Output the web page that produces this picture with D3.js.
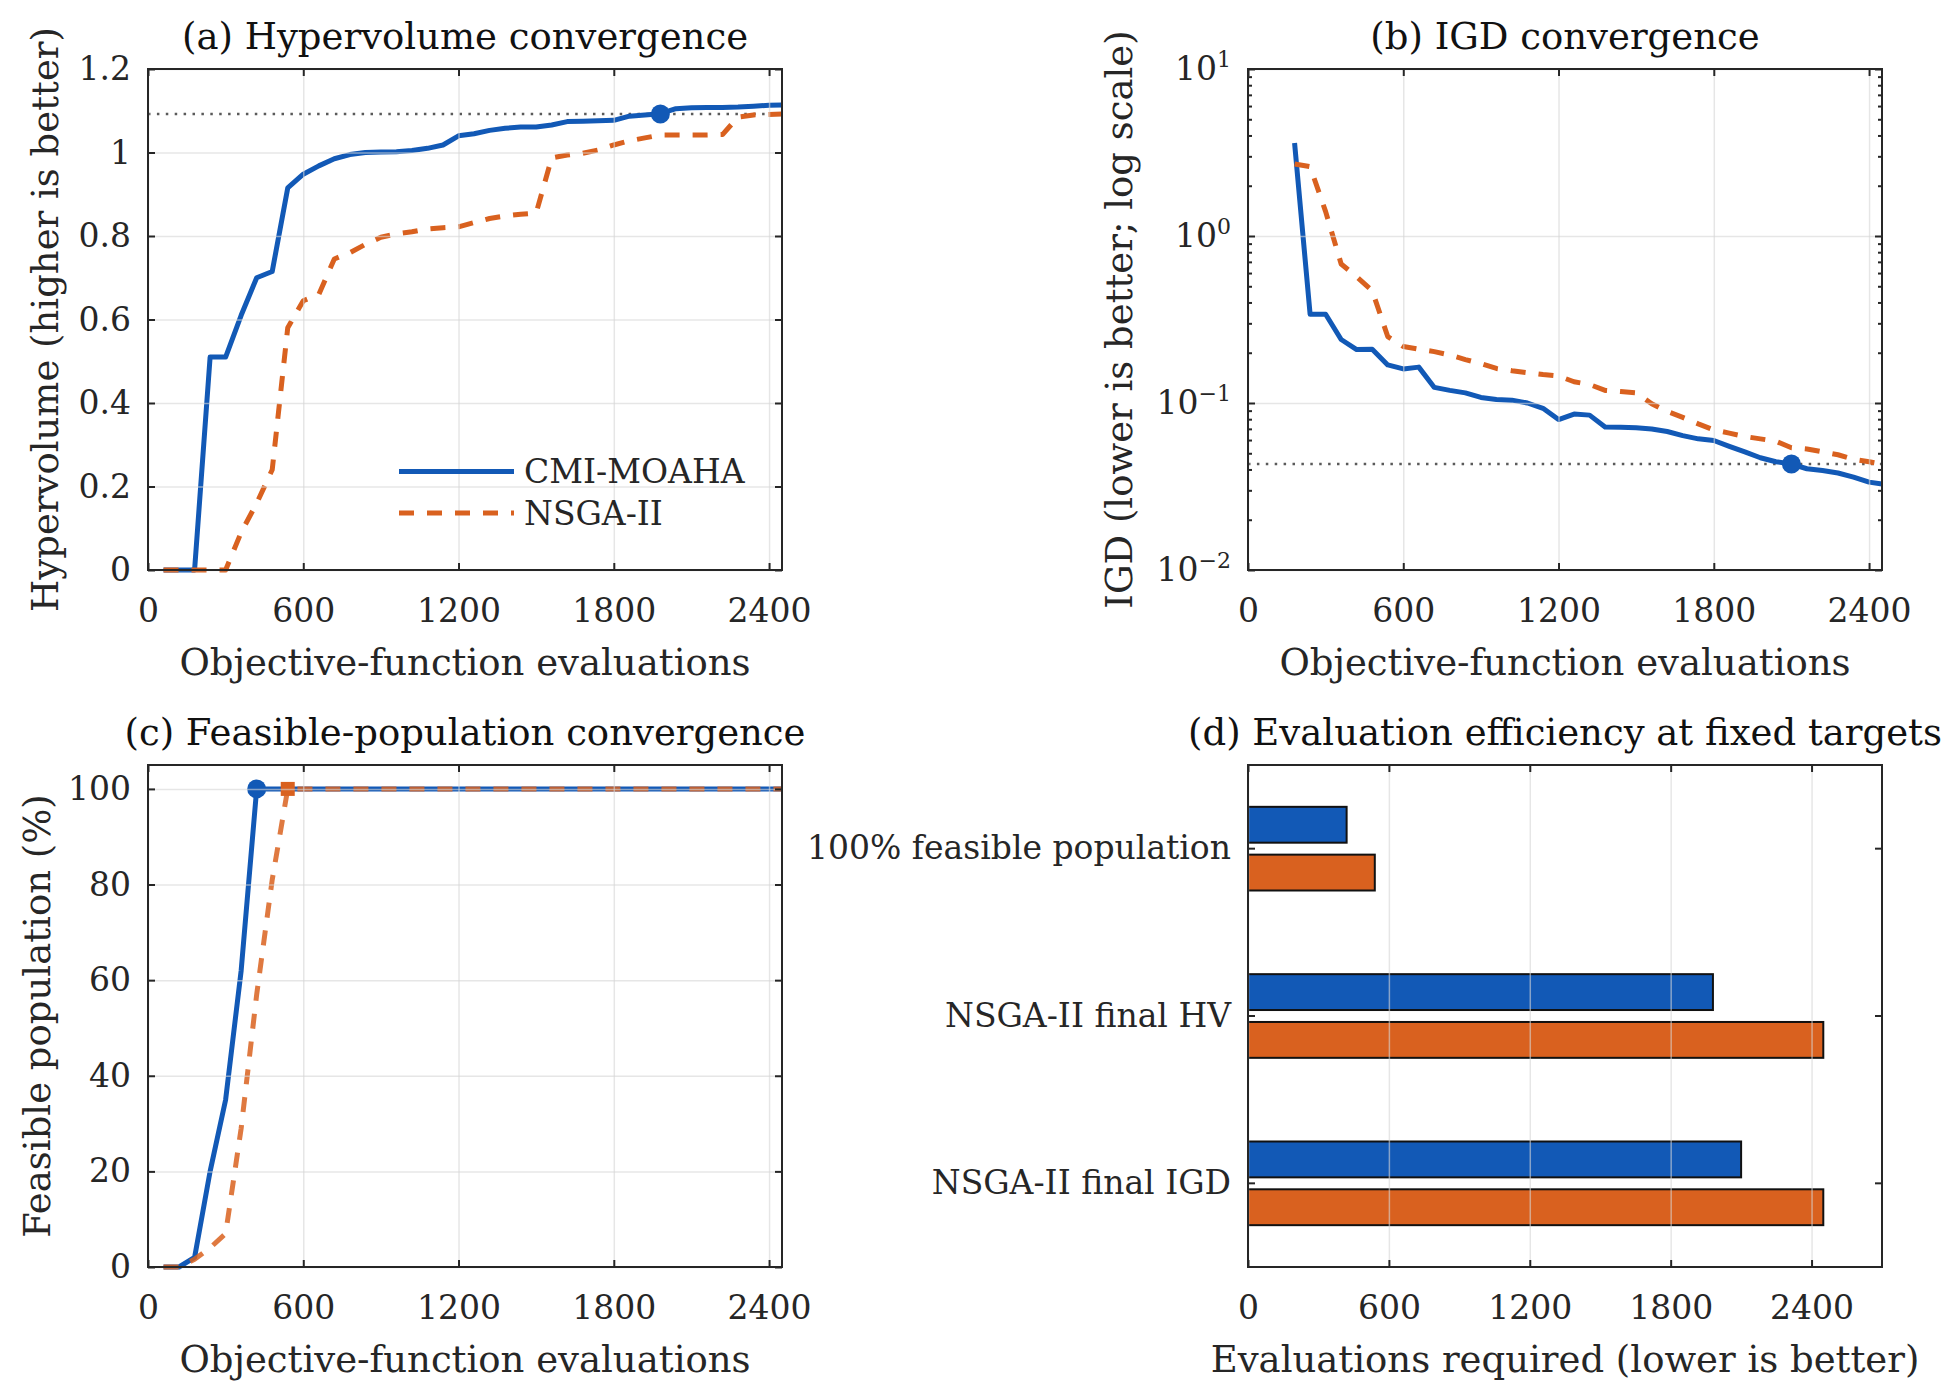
<!DOCTYPE html>
<html>
<head>
<meta charset="utf-8">
<script src="https://cdn.jsdelivr.net/npm/d3@7"></script>
<style>
  body { margin: 0; background: #fff; }
  .vis { width: 1956px; height: 1393px; }
</style>
</head>
<body>
<div class="vis"></div>
<script>
(function() {
  'use strict';

  // ---- data ----
  var evals = [60, 120, 180, 240, 300, 360, 420, 480, 540, 600, 660, 720, 780, 840, 900, 960,
    1020, 1080, 1140, 1200, 1260, 1320, 1380, 1440, 1500, 1560, 1620, 1680, 1740, 1800, 1860,
    1920, 1980, 2040, 2100, 2160, 2220, 2280, 2340, 2400, 2450];
  var hvCmi = [0, 0, 0, 0.51, 0.51, 0.61, 0.70, 0.715, 0.915, 0.948, 0.968, 0.985, 0.995, 1.0,
    1.001, 1.002, 1.005, 1.01, 1.018, 1.04, 1.045, 1.053, 1.058, 1.061, 1.061, 1.066, 1.074,
    1.075, 1.076, 1.077, 1.087, 1.09, 1.093, 1.105, 1.107, 1.108, 1.108, 1.109, 1.111, 1.113, 1.114];
  var hvNsga = [0, 0, 0, 0, 0, 0.09, 0.16, 0.24, 0.58, 0.645, 0.66, 0.745, 0.76, 0.78, 0.797,
    0.805, 0.81, 0.817, 0.82, 0.822, 0.832, 0.842, 0.848, 0.852, 0.855, 0.987, 0.994, 0.998,
    1.006, 1.018, 1.028, 1.035, 1.042, 1.042, 1.042, 1.042, 1.043, 1.085, 1.09, 1.091, 1.092];

  var igdEvals = [180, 240, 300, 360, 420, 480, 540, 600, 660, 720, 780, 840, 900, 960, 1020,
    1080, 1140, 1200, 1260, 1320, 1380, 1440, 1500, 1560, 1620, 1680, 1740, 1800, 1860, 1920,
    1980, 2040, 2100, 2160, 2220, 2280, 2340, 2400, 2450];
  var igdCmi = [3.6, 0.34, 0.34, 0.24, 0.209, 0.21, 0.169, 0.16, 0.164, 0.124, 0.119, 0.115,
    0.108, 0.105, 0.104, 0.1, 0.093, 0.0796, 0.0858, 0.0846, 0.0718, 0.0716, 0.071, 0.0698,
    0.0675, 0.0638, 0.061, 0.0596, 0.055, 0.051, 0.047, 0.0445, 0.0431, 0.0404, 0.0394,
    0.0381, 0.036, 0.0336, 0.0327];
  var igdNsga = [2.7, 2.6, 1.4, 0.68, 0.57, 0.47, 0.25, 0.218, 0.21, 0.203, 0.194, 0.182,
    0.172, 0.161, 0.156, 0.152, 0.148, 0.145, 0.134, 0.129, 0.119, 0.117, 0.115, 0.099,
    0.089, 0.082, 0.075, 0.069, 0.066, 0.063, 0.061, 0.059, 0.054, 0.053, 0.051, 0.049,
    0.046, 0.0445, 0.0431];

  var feasEvals = [60, 120, 180, 240, 300, 360, 420, 480, 540, 600, 2450];
  var feasCmi = [0, 0, 2, 20, 35, 62, 100, 100, 100, 100, 100];
  var feasNsga = [0, 0, 1.6, 4, 7, 29, 57, 81, 100, 100, 100];

  var hvTarget = 1.092, hvHit = 1980;
  var igdTarget = 0.0431, igdHit = 2100;
  var feasHitCmi = 420, feasHitNsga = 540;

  var barCats = ['100% feasible population', 'NSGA-II final HV', 'NSGA-II final IGD'];
  var barCmi = [420, 1980, 2100];
  var barNsga = [540, 2450, 2450];

  var seriesNames = ['CMI-MOAHA', 'NSGA-II'];
  var evalTicks = [0, 600, 1200, 1800, 2400];
  var hvTicks = [0, 0.2, 0.4, 0.6, 0.8, 1, 1.2];
  var igdTicks = [0.01, 0.1, 1, 10];
  var feasTicks = [0, 20, 40, 60, 80, 100];

  // ---- styling ----
  var BLUE = '#1259b6', ORANGE = '#d9611f', INK = '#262626';
  var FONT = '"DejaVu Serif", serif';
  var TICK_FS = 33, LABEL_FS = 37, LW = 5;

  var boxA = {x: 148, y: 69, w: 634, h: 501},
    boxB = {x: 1248, y: 69, w: 634, h: 501},
    boxC = {x: 148, y: 765, w: 634, h: 502},
    boxD = {x: 1248, y: 765, w: 634, h: 502};

  var svg = d3.select('.vis').append('svg')
      .attr('width', 1956)
      .attr('height', 1393)
      .style('background', '#fff');

  function styleAxis(sel) {
    sel.attr('font-family', null).attr('font-size', null);
    sel.select('.domain').remove();
    sel.selectAll('.tick line').attr('stroke', INK).attr('stroke-width', 2);
    sel.selectAll('.tick text')
      .attr('fill', INK)
      .attr('font-family', FONT)
      .attr('font-size', TICK_FS);
  }

  function styleGrid(sel) {
    sel.attr('font-family', null).attr('font-size', null);
    sel.select('.domain').remove();
    sel.selectAll('.tick text').remove();
    sel.selectAll('.tick line')
      .attr('stroke', '#d6d6d6')
      .attr('stroke-opacity', 0.6)
      .attr('stroke-width', 1.5);
  }

  function grid(g, box, xs, ys, xTicks, yTicks) {
    if (xTicks) {
      g.append('g')
        .attr('transform', 'translate(0,' + box.h + ')')
        .call(d3.axisBottom(xs).tickValues(xTicks).tickSize(-box.h).tickFormat(''))
        .call(styleGrid);
    }
    if (yTicks) {
      g.append('g')
        .call(d3.axisLeft(ys).tickValues(yTicks).tickSize(-box.w).tickFormat(''))
        .call(styleGrid);
    }
  }

  function frame(g, box, xs, ys, o) {
    g.append('g')
      .attr('transform', 'translate(0,' + box.h + ')')
      .call(d3.axisBottom(xs).tickValues(o.xTicks).tickFormat(d3.format('d'))
        .tickSizeInner(-7).tickSizeOuter(0).tickPadding(28.5))
      .call(styleAxis);
    g.append('g')
      .call(d3.axisTop(xs).tickValues(o.xTicks).tickSizeInner(-7).tickSizeOuter(0).tickFormat(''))
      .call(styleAxis);

    var left = d3.axisLeft(ys).tickSizeInner(-7).tickSizeOuter(0).tickPadding(17);
    var right = d3.axisRight(ys).tickSizeInner(-7).tickSizeOuter(0).tickFormat('');
    if (o.yTicks) {
      left.tickValues(o.yTicks);
      right.tickValues(o.yTicks);
    }
    if (o.yFmt) left.tickFormat(o.yFmt);
    o.leftAxis = g.append('g').call(left).call(styleAxis);
    g.append('g')
      .attr('transform', 'translate(' + box.w + ',0)')
      .call(right)
      .call(styleAxis);

    if (o.yMinor) {
      g.append('g')
        .call(d3.axisLeft(ys).tickValues(o.yMinor).tickSizeInner(-4).tickSizeOuter(0).tickFormat(''))
        .call(styleAxis);
      g.append('g')
        .attr('transform', 'translate(' + box.w + ',0)')
        .call(d3.axisRight(ys).tickValues(o.yMinor).tickSizeInner(-4).tickSizeOuter(0).tickFormat(''))
        .call(styleAxis);
    }

    g.append('rect')
      .attr('width', box.w)
      .attr('height', box.h)
      .attr('fill', 'none')
      .attr('stroke', INK)
      .attr('stroke-width', 2);

    // title
    g.append('text')
      .attr('x', box.w / 2)
      .attr('y', -20.5)
      .attr('text-anchor', 'middle')
      .attr('font-family', FONT)
      .attr('font-size', LABEL_FS)
      .attr('fill', '#111')
      .text(o.title);

    // x label
    g.append('text')
      .attr('x', box.w / 2)
      .attr('y', box.h + 105)
      .attr('text-anchor', 'middle')
      .attr('font-family', FONT)
      .attr('font-size', LABEL_FS)
      .attr('fill', INK)
      .text(o.xLabel);

    // y label
    if (o.yLabel) {
      g.append('text')
        .attr('transform', 'translate(' + (o.yLabelX - box.x) + ',' + (box.h / 2) + ') rotate(-90)')
        .attr('text-anchor', 'middle')
        .attr('font-family', FONT)
        .attr('font-size', LABEL_FS)
        .attr('fill', INK)
        .text(o.yLabel);
    }
  }

  function targetLine(g, box, ys, v) {
    g.append('line')
      .attr('x1', 0)
      .attr('x2', box.w)
      .attr('y1', ys(v))
      .attr('y2', ys(v))
      .attr('stroke', '#5a5a5a')
      .attr('stroke-width', 2.5)
      .attr('stroke-dasharray', '2.5 6.4');
  }

  function drawSeries(g, xs, ys, xv, yv, color, dashed) {
    var line = d3.line()
      .x(function(d) { return xs(d[0]); })
      .y(function(d) { return ys(d[1]); });
    return g.append('path')
      .datum(d3.zip(xv, yv))
      .attr('d', line)
      .attr('fill', 'none')
      .attr('stroke', color)
      .attr('stroke-width', LW)
      .attr('stroke-linejoin', 'round')
      .attr('stroke-dasharray', dashed ? '15 13' : null);
  }

  // ---- (a) Hypervolume ----
  var gA = svg.append('g').attr('transform', 'translate(' + boxA.x + ',' + boxA.y + ')');
  var xA = d3.scaleLinear().domain([0, 2450]).range([0, boxA.w]);
  var yA = d3.scaleLinear().domain([0, 1.2]).range([boxA.h, 0]);

  targetLine(gA, boxA, yA, hvTarget);
  drawSeries(gA, xA, yA, evals, hvCmi, BLUE, false);
  drawSeries(gA, xA, yA, evals, hvNsga, ORANGE, true);
  gA.append('circle')
    .attr('cx', xA(hvHit))
    .attr('cy', yA(hvTarget))
    .attr('r', 9.5)
    .attr('fill', BLUE);
  grid(gA, boxA, xA, yA, evalTicks, hvTicks);
  frame(gA, boxA, xA, yA, {
    xTicks: evalTicks,
    yTicks: hvTicks,
    yFmt: function(d) { return String(d); },
    title: '(a) Hypervolume convergence',
    xLabel: 'Objective-function evaluations',
    yLabel: 'Hypervolume (higher is better)',
    yLabelX: 57.5
  });

  // legend
  var leg = gA.append('g').attr('transform', 'translate(251,402.5)');
  [BLUE, ORANGE].forEach(function(c, i) {
    leg.append('line')
      .attr('x1', 0).attr('x2', 115)
      .attr('y1', i * 41.5).attr('y2', i * 41.5)
      .attr('stroke', c)
      .attr('stroke-width', LW)
      .attr('stroke-dasharray', i ? '15 13' : null);
    leg.append('text')
      .attr('x', 125)
      .attr('y', i * 41.5)
      .attr('dy', '0.36em')
      .attr('font-family', FONT)
      .attr('font-size', TICK_FS)
      .attr('fill', INK)
      .text(seriesNames[i]);
  });

  // ---- (b) IGD ----
  var gB = svg.append('g').attr('transform', 'translate(' + boxB.x + ',' + boxB.y + ')');
  var xB = d3.scaleLinear().domain([0, 2450]).range([0, boxB.w]);
  var yB = d3.scaleLog().domain([0.01, 10]).range([boxB.h, 0]);
  var igdMinor = [];
  [0.01, 0.1, 1].forEach(function(dec) {
    for (var k = 2; k <= 9; k++) igdMinor.push(dec * k);
  });

  targetLine(gB, boxB, yB, igdTarget);
  drawSeries(gB, xB, yB, igdEvals, igdCmi, BLUE, false);
  drawSeries(gB, xB, yB, igdEvals, igdNsga, ORANGE, true);
  gB.append('circle')
    .attr('cx', xB(igdHit))
    .attr('cy', yB(igdTarget))
    .attr('r', 9.5)
    .attr('fill', BLUE);
  grid(gB, boxB, xB, yB, evalTicks, igdTicks);
  var optB = {
    xTicks: evalTicks,
    yTicks: igdTicks,
    yMinor: igdMinor,
    yFmt: function() { return ''; },
    title: '(b) IGD convergence',
    xLabel: 'Objective-function evaluations',
    yLabel: 'IGD (lower is better; log scale)',
    yLabelX: 1132
  };
  frame(gB, boxB, xB, yB, optB);
  optB.leftAxis.selectAll('.tick text').each(function(d) {
    var t = d3.select(this).text('');
    var e = Math.round(Math.log10(d));
    t.append('tspan').text('10');
    t.append('tspan')
      .attr('dy', -13)
      .attr('font-size', 22)
      .text(e < 0 ? '\u2212' + (-e) : String(e));
  });

  // ---- (c) Feasible population ----
  var gC = svg.append('g').attr('transform', 'translate(' + boxC.x + ',' + boxC.y + ')');
  var xC = d3.scaleLinear().domain([0, 2450]).range([0, boxC.w]);
  var yC = d3.scaleLinear().domain([0, 105]).range([boxC.h, 0]);

  drawSeries(gC, xC, yC, feasEvals, feasCmi, BLUE, false);
  drawSeries(gC, xC, yC, feasEvals, feasNsga, ORANGE, true)
    .attr('stroke-opacity', 0.85);
  gC.append('circle')
    .attr('cx', xC(feasHitCmi))
    .attr('cy', yC(100))
    .attr('r', 9.5)
    .attr('fill', BLUE);
  gC.append('rect')
    .attr('x', xC(feasHitNsga) - 7)
    .attr('y', yC(100) - 7)
    .attr('width', 14)
    .attr('height', 14)
    .attr('fill', ORANGE);
  grid(gC, boxC, xC, yC, evalTicks, feasTicks);
  frame(gC, boxC, xC, yC, {
    xTicks: evalTicks,
    yTicks: feasTicks,
    title: '(c) Feasible-population convergence',
    xLabel: 'Objective-function evaluations',
    yLabel: 'Feasible population (%)',
    yLabelX: 50
  });

  // ---- (d) Evaluation efficiency ----
  var gD = svg.append('g').attr('transform', 'translate(' + boxD.x + ',' + boxD.y + ')');
  var xD = d3.scaleLinear().domain([0, 2700]).range([0, boxD.w]);
  var yD = d3.scaleBand().domain(barCats).range([0, boxD.h]);
  var yInner = d3.scaleBand().domain(seriesNames).range([0, yD.bandwidth()])
    .paddingInner(0.25).paddingOuter(0.875);
  var barRows = barCats.map(function(c, i) {
    return {cat: c, vals: [barCmi[i], barNsga[i]]};
  });

  var rows = gD.selectAll('.row')
    .data(barRows)
    .enter()
    .append('g')
      .attr('class', 'row')
      .attr('transform', function(d) { return 'translate(0,' + yD(d.cat) + ')'; });
  rows.selectAll('rect')
    .data(function(d) { return d.vals; })
    .enter()
    .append('rect')
      .attr('x', xD(0))
      .attr('y', function(d, i) { return yInner(seriesNames[i]); })
      .attr('width', function(d) { return xD(d) - xD(0); })
      .attr('height', yInner.bandwidth())
      .attr('fill', function(d, i) { return i ? ORANGE : BLUE; })
      .attr('stroke', '#111')
      .attr('stroke-width', 2);

  grid(gD, boxD, xD, yD, evalTicks, null);
  frame(gD, boxD, xD, yD, {
    xTicks: evalTicks,
    title: '(d) Evaluation efficiency at fixed targets',
    xLabel: 'Evaluations required (lower is better)'
  });
}());
</script>
</body>
</html>
